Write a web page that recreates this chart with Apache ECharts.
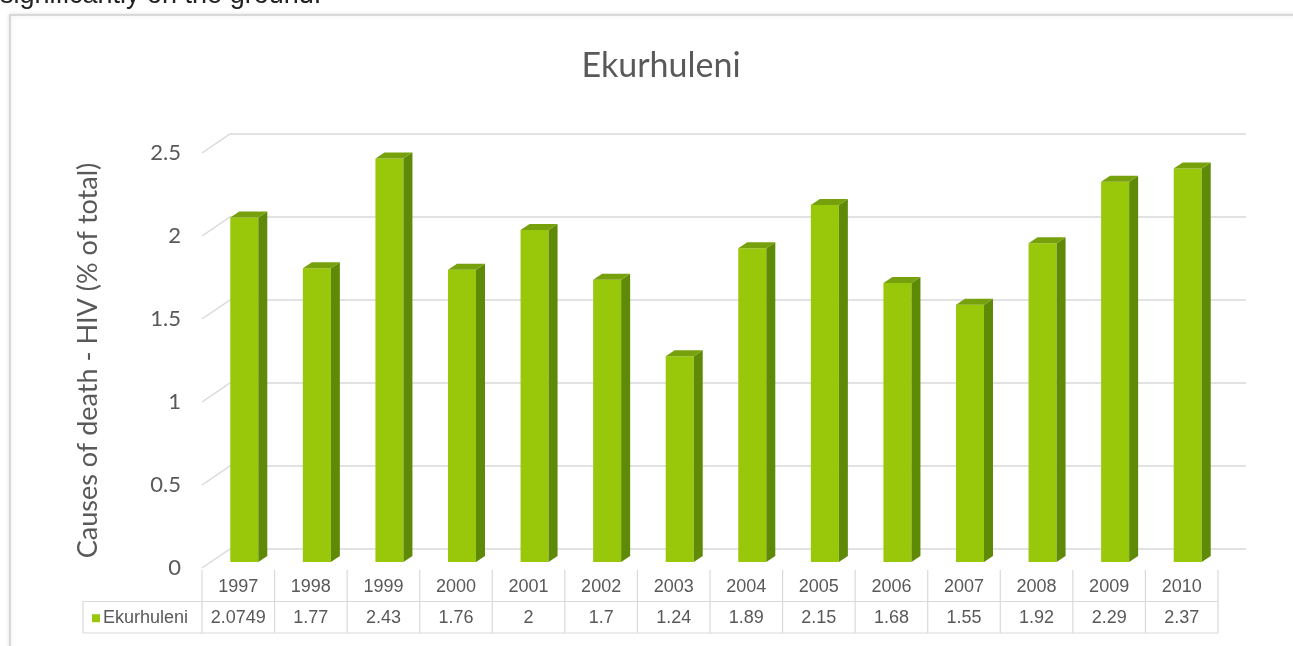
<!DOCTYPE html>
<html>
<head>
<meta charset="utf-8">
<title>Ekurhuleni</title>
<script src="https://cdn.jsdelivr.net/npm/echarts@6.0.0/dist/echarts.min.js"></script>
<style>
  html, body { margin: 0; padding: 0; background: #fff; }
  #chart { width: 1293px; height: 646px; }
</style>
</head>
<body>
<div id="chart"></div>
<script>
var years = ['1997', '1998', '1999', '2000', '2001', '2002', '2003', '2004', '2005', '2006', '2007', '2008', '2009', '2010'];
var hivShare = [2.0749, 1.77, 2.43, 1.76, 2, 1.7, 1.24, 1.89, 2.15, 1.68, 1.55, 1.92, 2.29, 2.37];
var yTicks = [0, 0.5, 1, 1.5, 2, 2.5];
var seriesName = 'Ekurhuleni';

// fake 3d: offset of the back wall and of the bar faces
var WALL_DX = 28, WALL_DY = -19;
var FRONT_DX = 6, FRONT_DY = -6;
var SIDE_DX = 9, SIDE_DY = -6;
var BAR_RATIO = 0.386;

var textGrey = '#595959';
var lineGrey = '#d9d9d9';

var chart = echarts.init(document.getElementById('chart'));

function renderWall(params, api) {
  var cs = params.coordSys;
  var y = api.coord([0, api.value(1)])[1];
  return {
    type: 'polyline',
    shape: { points: [[cs.x, y], [cs.x + WALL_DX, y + WALL_DY], [cs.x + cs.width + WALL_DX, y + WALL_DY]] },
    style: { stroke: lineGrey, lineWidth: 1.5, fill: null },
    silent: true
  };
}

function renderBar(params, api) {
  var top = api.coord([api.value(0), api.value(1)]);
  var base = api.coord([api.value(0), 0]);
  var bw = api.size([1, 0])[0] * BAR_RATIO;
  var x0 = top[0] + FRONT_DX - bw / 2;
  var x1 = x0 + bw;
  var yTop = top[1] + FRONT_DY;
  var yBot = base[1] + FRONT_DY;
  return {
    type: 'group',
    children: [
      {
        type: 'rect',
        shape: { x: x0, y: yTop, width: bw, height: yBot - yTop },
        style: { fill: '#99c80b' }
      },
      {
        type: 'polygon',
        shape: { points: [[x1, yTop], [x1 + SIDE_DX, yTop + SIDE_DY], [x1 + SIDE_DX, yBot + SIDE_DY], [x1, yBot]] },
        style: { fill: '#5f8a07' }
      },
      {
        type: 'polygon',
        shape: { points: [[x0, yTop], [x1, yTop], [x1 + SIDE_DX, yTop + SIDE_DY], [x0 + SIDE_DX, yTop + SIDE_DY]] },
        style: { fill: '#76a10d' }
      }
    ]
  };
}

function renderCell(params, api) {
  var i = api.value(0);
  var row = api.value(1);
  var c = api.coord([i, row]);
  var size = api.size([1, 1]);
  var w = size[0], h = size[1];
  var left = c[0] - w / 2, right = c[0] + w / 2;
  var topY = c[1] - h / 2, botY = c[1] + h / 2;
  var lineStyle = { stroke: lineGrey, lineWidth: 1.2 };
  var children = [
    { type: 'line', shape: { x1: right, y1: topY, x2: right, y2: botY }, style: lineStyle },
    { type: 'line', shape: { x1: left, y1: botY, x2: right, y2: botY }, style: lineStyle },
    {
      type: 'text',
      style: {
        x: c[0], y: c[1] + 1,
        text: api.value(2),
        align: 'center', verticalAlign: 'middle',
        font: '18px "Liberation Sans", Arial, sans-serif',
        fill: textGrey
      }
    }
  ];
  if (i === 0) {
    children.push({ type: 'line', shape: { x1: left, y1: topY, x2: left, y2: botY }, style: lineStyle });
  }
  if (i === 0 && row === 1) {
    // legend key cell on the left of the value row
    var keyLeft = left - 119;
    children.push(
      { type: 'line', shape: { x1: keyLeft, y1: topY, x2: left, y2: topY }, style: lineStyle },
      { type: 'line', shape: { x1: keyLeft, y1: botY, x2: left, y2: botY }, style: lineStyle },
      { type: 'line', shape: { x1: keyLeft, y1: topY, x2: keyLeft, y2: botY }, style: lineStyle },
      { type: 'rect', shape: { x: keyLeft + 9, y: c[1] - 3, width: 8, height: 8 }, style: { fill: '#99c80b' } },
      {
        type: 'text',
        style: {
          x: keyLeft + 20, y: c[1] + 1,
          text: seriesName,
          align: 'left', verticalAlign: 'middle',
          font: '18px "Liberation Sans", Arial, sans-serif',
          fill: textGrey
        }
      }
    );
  }
  return { type: 'group', children: children };
}

var tableData = [];
for (var i = 0; i < years.length; i++) {
  tableData.push([i, 0, years[i]]);
  tableData.push([i, 1, String(hivShare[i])]);
}

var option = {
  backgroundColor: '#fff',
  animation: false,
  title: {
    text: seriesName,
    left: 656,
    top: 44,
    textAlign: 'center',
    textStyle: { fontFamily: 'Lato', fontSize: 34, fontWeight: 'normal', color: textGrey }
  },
  graphic: [
    {
      type: 'text',
      left: 0,
      top: -18,
      z: 10,
      style: { text: 'significantly on the ground.', font: '27px "Liberation Sans", Arial, sans-serif', fill: '#222' }
    },
    {
      type: 'rect',
      z: -10,
      shape: { x: 10, y: 15, width: 1400, height: 700 },
      style: { fill: '#fff', stroke: '#cfcfcf', lineWidth: 1.5, shadowBlur: 4, shadowColor: 'rgba(0,0,0,0.12)' }
    }
  ],
  grid: [
    { left: 202, right: 75, top: 153, bottom: 78 },
    { left: 202, right: 75, top: 570, height: 63 }
  ],
  xAxis: [
    {
      type: 'category', gridIndex: 0, data: years,
      axisLine: { show: false }, axisTick: { show: false }, axisLabel: { show: false }
    },
    {
      type: 'category', gridIndex: 1, data: years,
      axisLine: { show: false }, axisTick: { show: false }, axisLabel: { show: false }
    }
  ],
  yAxis: [
    {
      type: 'value', gridIndex: 0,
      min: yTicks[0], max: yTicks[yTicks.length - 1], interval: yTicks[1] - yTicks[0],
      name: 'Causes of death - HIV (% of total)',
      nameLocation: 'middle',
      nameGap: 100,
      nameTextStyle: { fontFamily: 'Lato', fontSize: 27, color: textGrey },
      axisLine: { show: false }, axisTick: { show: false }, splitLine: { show: false },
      axisLabel: { margin: 21, fontFamily: 'Lato', fontSize: 22, color: textGrey, padding: [6, 0, 0, 0] }
    },
    {
      type: 'category', gridIndex: 1, data: ['year', 'value'], inverse: true,
      axisLine: { show: false }, axisTick: { show: false }, axisLabel: { show: false }
    }
  ],
  series: [
    {
      type: 'custom', name: 'wall', xAxisIndex: 0, yAxisIndex: 0, z: 1, silent: true,
      data: yTicks.map(function (v) { return [0, v]; }),
      renderItem: renderWall
    },
    {
      type: 'custom', name: seriesName, xAxisIndex: 0, yAxisIndex: 0, z: 3,
      data: hivShare.map(function (v, idx) { return [idx, v]; }),
      renderItem: renderBar
    },
    {
      type: 'custom', name: 'table', xAxisIndex: 1, yAxisIndex: 1, z: 3, silent: true,
      data: tableData,
      renderItem: renderCell
    }
  ]
};

chart.setOption(option);
</script>
</body>
</html>
